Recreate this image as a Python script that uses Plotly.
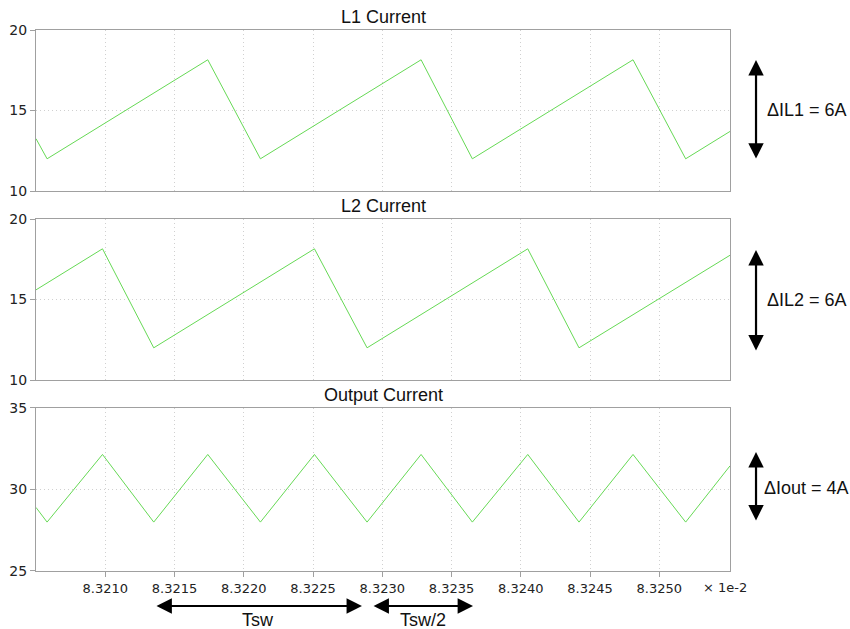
import plotly.graph_objects as go

# time axis in units of 1e-2 s
l1_t = [8.32050, 8.32058, 8.32174, 8.32212, 8.32328, 8.32365, 8.32481, 8.32519, 8.32551]
l1_v = [13.25, 12.0, 18.15, 12.0, 18.15, 12.0, 18.15, 12.0, 13.7]

l2_t = [8.32050, 8.32098, 8.32135, 8.32251, 8.32289, 8.32405, 8.32442, 8.32551]
l2_v = [15.6, 18.15, 12.0, 18.15, 12.0, 18.15, 12.0, 17.75]

out_t = [8.32050, 8.32058, 8.32098, 8.32135, 8.32174, 8.32212, 8.32251, 8.32289,
         8.32328, 8.32365, 8.32405, 8.32442, 8.32481, 8.32519, 8.32551]
out_v = [28.9, 28.0, 32.15, 28.0, 32.15, 28.0, 32.15, 28.0,
         32.15, 28.0, 32.15, 28.0, 32.15, 28.0, 31.45]

x_ticks = [8.3210, 8.3215, 8.3220, 8.3225, 8.3230, 8.3235, 8.3240, 8.3245, 8.3250]
x_tick_labels = ["8.3210", "8.3215", "8.3220", "8.3225", "8.3230", "8.3235", "8.3240", "8.3245", "8.3250"]

titles = ["L1 Current", "L2 Current", "Output Current"]
ripple_labels = ["\u0394IL1 = 6A", "\u0394IL2 = 6A", "\u0394Iout = 4A"]
x_range = [8.3205, 8.32551]

GREEN = "#66D955"
FONT = "Liberation Sans, Arial, sans-serif"
TICKFONT = dict(family="DejaVu Sans, Verdana, sans-serif", size=13, color="#222")

fig = go.Figure()
fig.add_trace(go.Scatter(x=l1_t, y=l1_v, mode="lines", line=dict(color=GREEN, width=1), xaxis="x", yaxis="y"))
fig.add_trace(go.Scatter(x=l2_t, y=l2_v, mode="lines", line=dict(color=GREEN, width=1), xaxis="x2", yaxis="y2"))
fig.add_trace(go.Scatter(x=out_t, y=out_v, mode="lines", line=dict(color=GREEN, width=1), xaxis="x3", yaxis="y3"))

domains = [[0.7024, 1.0], [0.353, 0.6506], [0.0, 0.3013]]
yranges = [[10, 20], [10, 20], [25, 35]]

GRID = dict(showgrid=True, gridcolor="#d0d0d0", griddash="1px,3px", gridwidth=1)
common_x = dict(GRID, range=x_range, tickmode="array", tickvals=x_ticks, ticktext=x_tick_labels,
                showline=True, linecolor="#a0a0a0", linewidth=1, mirror=True, zeroline=False,
                tickfont=TICKFONT, automargin=False)
common_y = dict(GRID, dtick=5, showline=True, linecolor="#a0a0a0", linewidth=1, mirror=True,
                zeroline=False, ticks="outside", ticklen=5, tickcolor="#a0a0a0",
                tickfont=dict(TICKFONT, size=14), automargin=False)

layout = dict(
    width=850, height=629, showlegend=False,
    margin=dict(l=36, r=120, t=30, b=58, autoexpand=False),
    paper_bgcolor="white", plot_bgcolor="white",
)
for i in range(3):
    sx = "" if i == 0 else str(i + 1)
    xa = dict(common_x, anchor="y" + sx, domain=[0, 1])
    if i < 2:
        xa.update(showticklabels=False, ticks="", matches="x3")
    else:
        xa.update(ticks="outside", ticklen=5, tickcolor="#a0a0a0")
    ya = dict(common_y, anchor="x" + sx, domain=domains[i], range=yranges[i])
    layout["xaxis" + sx] = xa
    layout["yaxis" + sx] = ya

annotations = []
title_y = [1.024, 0.6747, 0.3253]
for t, yy in zip(titles, title_y):
    annotations.append(dict(text=t, xref="paper", yref="paper", x=0.5, y=yy, showarrow=False,
                            font=dict(family=FONT, size=18, color="#111"), xanchor="center", yanchor="middle"))

# vertical ripple arrows (top y, length px) and labels
arrow_top = [0.9445, 0.5933, 0.22]
arrow_len = [100, 102, 70]
label_y = [0.852, 0.501, 0.1534]
label_x = [1.0504, 1.0504, 1.0461]
for yt, ln, lx, ly, lab in zip(arrow_top, arrow_len, label_x, label_y, ripple_labels):
    annotations.append(dict(text="", xref="paper", yref="paper", x=1.0375, y=yt, ax=0, ay=ln,
                            showarrow=True, arrowhead=2, startarrowhead=2, arrowside="end+start",
                            arrowsize=1.4, startarrowsize=1.4, arrowwidth=2.2, arrowcolor="black"))
    annotations.append(dict(text=lab, xref="paper", yref="paper", x=lx, y=ly, showarrow=False,
                            xanchor="left", yanchor="middle", font=dict(family=FONT, size=18, color="#111")))

# Tsw and Tsw/2 arrows
spans = [(8.321359, 8.322853, "Tsw"), (8.322926, 8.323655, "Tsw/2")]
for a, b, lab in spans:
    annotations.append(dict(text="", xref="x3", yref="paper", x=b, y=-0.0647, axref="x3", ax=a, ay=0,
                            ayref="pixel", showarrow=True, arrowhead=2, startarrowhead=2, arrowside="end+start",
                            arrowsize=1.4, startarrowsize=1.4, arrowwidth=2.2, arrowcolor="black"))
    annotations.append(dict(text=lab, xref="x3", yref="paper", x=(a + b) / 2, y=-0.0906, showarrow=False,
                            xanchor="center", yanchor="middle", font=dict(family=FONT, size=18, color="#111")))

annotations.append(dict(text="\u00d7 1e-2", xref="paper", yref="paper", x=0.993, y=-0.0296, showarrow=False,
                        xanchor="center", yanchor="middle", font=TICKFONT))
layout["annotations"] = annotations

fig.update_layout(**layout)
fig.write_html("out.html", config={"displayModeBar": False},
               post_script="document.body.style.margin='0';")
